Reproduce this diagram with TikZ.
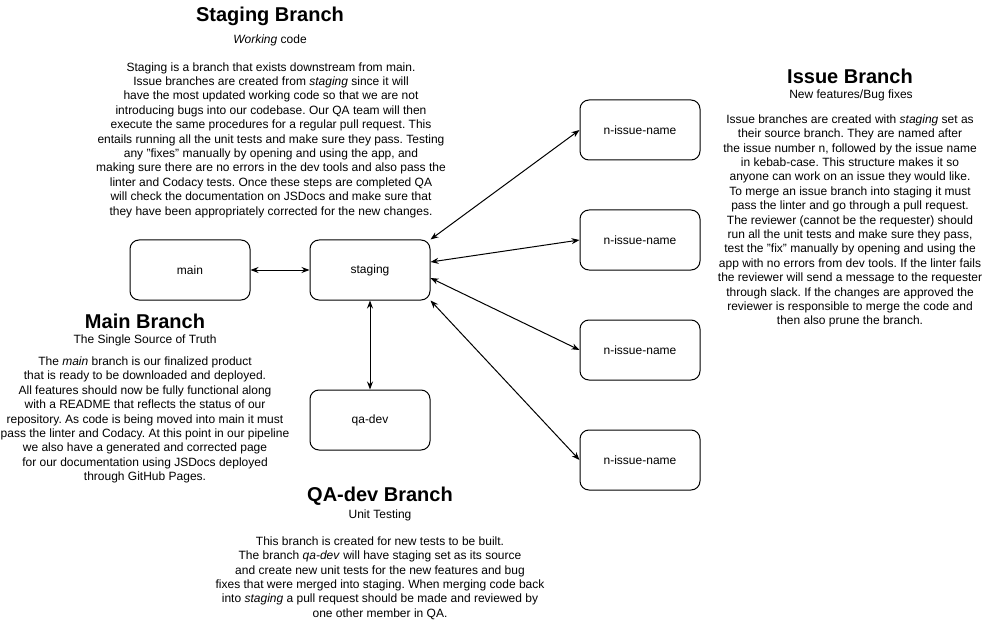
\documentclass[tikz,border=0pt]{standalone}
\usepackage{fontspec}
\setmainfont{Liberation Sans}
\usetikzlibrary{arrows.meta}
\frenchspacing

\tikzset{
	branchbox/.style={draw,rounded corners=9pt,minimum width=120pt,minimum height=60pt,
		font=\fontsize{12}{14.4}\selectfont},
	heading/.style={font=\fontsize{20}{24}\selectfont\bfseries,inner sep=0pt},
	subhead/.style={font=\fontsize{12}{14.4}\selectfont,inner sep=0pt},
	blurb/.style={align=center,font=\fontsize{12}{14.4}\selectfont,inner sep=0pt}
}

\begin{document}
\begin{tikzpicture}[
	x=1pt,y=-1pt,
	>={Stealth[length=8pt,width=6pt]},
	line width=1pt,
	line cap=round,
	line join=round
	]
	\useasboundingbox (0,0) rectangle (996,631);
	% branches
	\node[branchbox] (main) at (190,270) {main};
	\node[branchbox] (staging) at (370,270) {staging};
	\node[branchbox] (qadev) at (370,420) {qa-dev};
	\node[branchbox] (issueA) at (640,130) {n-issue-name};
	\node[branchbox] (issueB) at (640,240) {n-issue-name};
	\node[branchbox] (issueC) at (640,350) {n-issue-name};
	\node[branchbox] (issueD) at (640,460) {n-issue-name};
	\begin{scope}[<->]
		\draw (main) -- (staging);
		\draw (staging) -- (qadev);
		\draw (staging.north east) -- (issueA.west);
		\draw ([yshift=8pt]staging.east) -- (issueB.west);
		\draw ([yshift=-8pt]staging.east) -- (issueC.west);
		\draw (staging.south east) -- (issueD.west);
	\end{scope}
	% staging notes
	\node[heading] (stagingTitle) at (270,16) {Staging Branch};
	\node[subhead] (stagingSub) at (270,40) {\textit{Working} code};
	\node[blurb] (stagingText) at (271,140) {Staging is a branch that exists downstream from main.\\
		Issue branches are created from \textit{staging} since it will\\
		have the most updated working code so that we are not\\
		introducing bugs into our codebase. Our QA team will then\\
		execute the same procedures for a regular pull request. This\\
		entails running all the unit tests and make sure they pass. Testing\\
		any "fixes" manually by opening and using the app, and\\
		making sure there are no errors in the dev tools and also pass the\\
		linter and Codacy tests. Once these steps are completed QA\\
		will check the documentation on JSDocs and make sure that\\
		they have been appropriately corrected for the new changes.};
	% issue notes
	\node[heading] (issueTitle) at (850,76) {Issue Branch};
	\node[subhead] (issueSub) at (851,95) {New features/Bug fixes};
	\node[blurb] (issueText) at (850,221) {Issue branches are created with \textit{staging} set as\\
		their source branch. They are named after\\
		the issue number n, followed by the issue name\\
		in kebab-case. This structure makes it so\\
		anyone can work on an issue they would like.\\
		To merge an issue branch into staging it must\\
		pass the linter and go through a pull request.\\
		The reviewer (cannot be the requester) should\\
		run all the unit tests and make sure they pass,\\
		test the "fix" manually by opening and using the\\
		app with no errors from dev tools. If the linter fails\\
		the reviewer will send a message to the requester\\
		through slack. If the changes are approved the\\
		reviewer is responsible to merge the code and\\
		then also prune the branch.};
	% main notes
	\node[heading] (mainTitle) at (145,321) {Main Branch};
	\node[subhead] (mainSub) at (145,340) {The Single Source of Truth};
	\node[blurb] (mainText) at (145,420) {The \textit{main} branch is our finalized product\\
		that is ready to be downloaded and deployed.\\
		All features should now be fully functional along\\
		with a README that reflects the status of our\\
		repository. As code is being moved into main it must\\
		pass the linter and Codacy. At this point in our pipeline\\
		we also have a generated and corrected page\\
		for our documentation using JSDocs deployed\\
		through GitHub Pages.};
	% qa-dev notes
	\node[heading] (qadevTitle) at (380,496) {QA-dev Branch};
	\node[subhead] (qadevSub) at (380,515) {Unit Testing};
	\node[blurb] (qadevText) at (380,578) {This branch is created for new tests to be built.\\
		The branch \textit{qa-dev} will have staging set as its source\\
		and create new unit tests for the new features and bug\\
		fixes that were merged into staging. When merging code back\\
		into \textit{staging} a pull request should be made and reviewed by\\
		one other member in QA.};
\end{tikzpicture}
\end{document}
